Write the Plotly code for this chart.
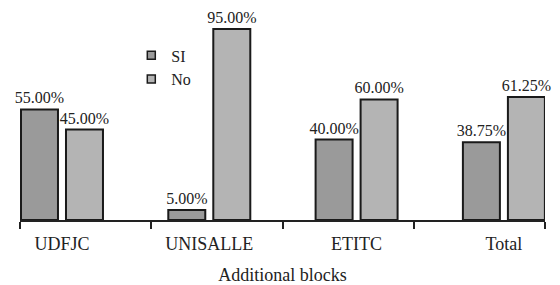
import plotly.graph_objects as go
import numpy as np

categories = ["UDFJC", "UNISALLE", "ETITC", "Total"]
si_values = [55.00, 5.00, 40.00, 38.75]
no_values = [45.00, 95.00, 60.00, 61.25]
series_names = ["SI", "No"]
x_title = "Additional blocks"

pos = list(range(len(categories)))
font_family = "Liberation Serif"
colors = ["#9a9a9a", "#b4b4b4"]

xrange = [-0.285, 3.279]
boundaries = list(np.linspace(xrange[0] + 0.002, xrange[1] - 0.002, 5))

fig = go.Figure()
for name, vals, color in [(series_names[0], si_values, colors[0]),
                          (series_names[1], no_values, colors[1])]:
    fig.add_trace(go.Bar(
        x=pos, y=vals, name=name, showlegend=False,
        marker=dict(color=color, line=dict(color="#1a1a1a", width=2)),
        text=[f"{v:.2f}%" for v in vals],
        textposition="outside", constraintext="none",
        textfont=dict(family=font_family, size=16, color="#222"),
        cliponaxis=False,
    ))
# legend proxies with small square swatches
for name, color in zip(series_names, colors):
    fig.add_trace(go.Scatter(
        x=[None], y=[None], mode="markers", name=name,
        marker=dict(symbol="square", size=8, color=color,
                    line=dict(color="#1a1a1a", width=1.5)),
    ))

# page has an 8px body margin, so the figure is sized/margined to compensate
fig.update_layout(
    width=552, height=277,
    margin=dict(l=12, r=15, t=2, b=65),
    paper_bgcolor="white", plot_bgcolor="white",
    barmode="group", bargap=0.389, bargroupgap=0.178,
    font=dict(family=font_family, color="#222"),
    showlegend=True,
    legend=dict(x=0.212, y=0.865, xanchor="left", yanchor="top",
                font=dict(family=font_family, size=16, color="#222"),
                bgcolor="rgba(0,0,0,0)", tracegroupgap=0, itemwidth=30),
    xaxis=dict(
        range=xrange, tickmode="array", tickvals=pos, ticktext=categories,
        ticks="", showline=True, linecolor="#222", linewidth=2,
        showgrid=False, zeroline=False, ticklabelstandoff=6,
        tickfont=dict(family=font_family, size=18, color="#222"),
        minor=dict(tickmode="array", tickvals=boundaries, ticks="outside",
                   ticklen=7, tickwidth=2, tickcolor="#222", showgrid=False),
        title=dict(text=x_title, font=dict(family=font_family, size=18, color="#222"),
                   standoff=16),
    ),
    yaxis=dict(range=[0, 104.5], visible=False, showgrid=False),
)

fig.write_html("out.html")
